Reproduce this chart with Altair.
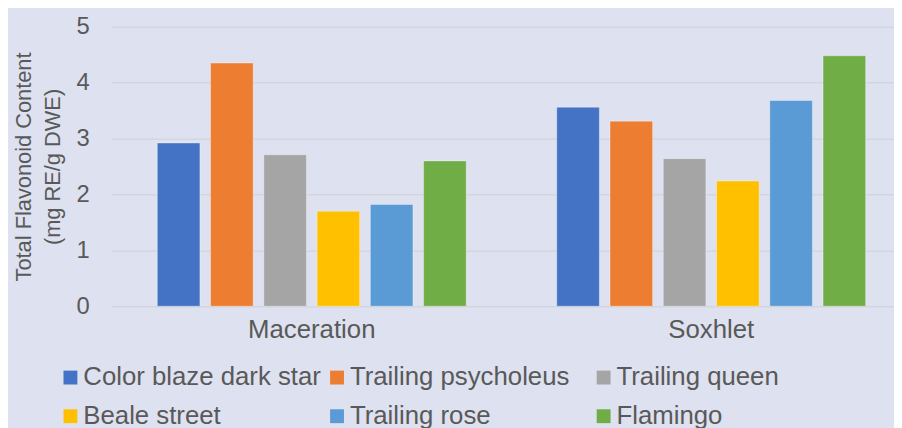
import altair as alt
import pandas as pd

methods = ["Maceration", "Soxhlet"]
cultivars = ["Color blaze dark star", "Trailing psycholeus", "Trailing queen",
             "Beale street", "Trailing rose", "Flamingo"]
maceration = [2.92, 4.35, 2.71, 1.70, 1.82, 2.60]
soxhlet = [3.56, 3.31, 2.64, 2.24, 3.68, 4.48]
colors = ["#4472C4", "#ED7D31", "#A5A5A5", "#FFC000", "#5B9BD5", "#70AD47"]
y_ticks = [0, 1, 2, 3, 4, 5]

rows = []
for method, vals in zip(methods, [maceration, soxhlet]):
    for c, v in zip(cultivars, vals):
        rows.append({"method": method, "cultivar": c, "value": v})
df = pd.DataFrame(rows)

FONT = "Liberation Sans"
TXT = "#595959"
BG = "#DEE1EF"

chart = alt.Chart(df).mark_bar(
    stroke="white", strokeOpacity=0.35, strokeWidth=1
).encode(
    x=alt.X("method:N", sort=methods,
            scale=alt.Scale(paddingInner=0.2, paddingOuter=0.08, align=0.64),
            axis=alt.Axis(title=None, labelAngle=0, ticks=False, domain=False,
                          labelFontSize=26, labelColor=TXT, labelFont=FONT,
                          labelPadding=11, labelLimit=400)),
    xOffset=alt.XOffset("cultivar:N", sort=cultivars,
                        scale=alt.Scale(paddingInner=0.2, paddingOuter=0.1)),
    y=alt.Y("value:Q",
            scale=alt.Scale(domain=[0, 5], nice=False),
            axis=alt.Axis(values=y_ticks, title=["Total Flavonoid Content", "(mg RE/g DWE)"],
                          ticks=False, domain=False, grid=True,
                          gridColor="#D4D6DE", gridWidth=1.5,
                          labelFontSize=24, labelColor=TXT, labelFont=FONT,
                          labelPadding=22,
                          titleFontSize=22, titleColor=TXT, titleFont=FONT,
                          titleFontWeight="normal", titleAngle=270,
                          titleBaseline="middle", titleX=-88, titleY=141,
                          titleLineHeight=29)),
    color=alt.Color("cultivar:N", sort=cultivars,
                    scale=alt.Scale(domain=cultivars, range=colors),
                    legend=alt.Legend(title=None, orient="none", legendX=-54, legendY=341,
                                      direction="horizontal",
                                      columns=3, gridAlign="all", columnPadding=3,
                                      rowPadding=13, symbolType="square",
                                      symbolSize=196, symbolStrokeWidth=0,
                                      symbolOpacity=1, labelFontSize=26,
                                      labelColor=TXT, labelFont=FONT,
                                      labelOffset=0, labelLimit=400, padding=0)),
).properties(
    width=790, height=282,
    background=BG,
    autosize=alt.AutoSizeParams(type="none"),
    padding={"left": 104, "top": 17, "right": 0, "bottom": 121},
).configure_view(stroke=None)

chart.save("out.html", embed_options={"renderer": "svg", "actions": False})
